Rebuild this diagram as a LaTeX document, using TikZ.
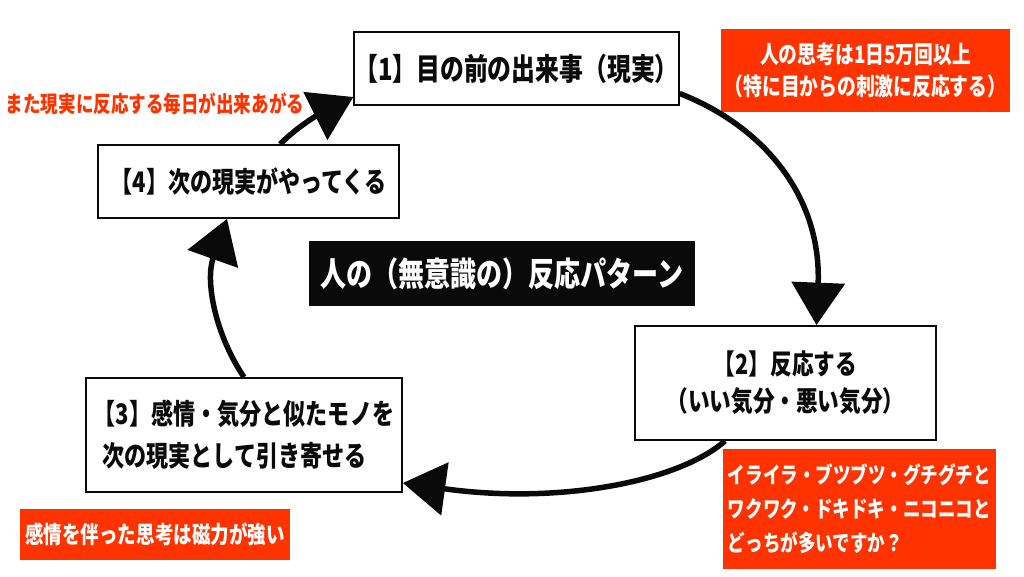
\documentclass[tikz,border=0pt]{standalone}
\usepackage{fontspec}
\setmainfont{Noto Sans CJK JP}[FakeStretch=0.78]
\usepackage{xcolor}
\usepackage{tikz}
\usetikzlibrary{arrows.meta}
\definecolor{rpRed}{RGB}{255, 51, 0}
\definecolor{rpBlack}{RGB}{10, 10, 10}
\newcommand{\fsz}[2]{\fontsize{#1}{#2}\selectfont\bfseries}
\tikzset{
    base/.style={
        align=center,
        inner sep=0pt
    },
    stepbox/.style={
        base,
        rectangle,
        draw=rpBlack,
        line width=1pt,
        fill=white,
        text=rpBlack
    },
    banner/.style={
        base,
        rectangle,
        fill=rpBlack,
        text=white
    },
    note/.style={
        base,
        rectangle,
        fill=rpRed,
        text=white
    },
    label/.style={
        base,
        text=rpRed
    },
    flow/.style={
        -{Triangle[length=0.85cm, width=1.05cm]},
        line width=0.11cm,
        color=rpBlack
    }
}
\begin{document}
\begin{tikzpicture}[x=0.02cm, y=-0.02cm]
  \useasboundingbox (0,0) rectangle (1024,576);

  % Steps
  \node[stepbox, minimum width=6.26cm, minimum height=1.46cm, font=\fsz{17.4pt}{23.8pt}]
    (one) at (516.5,68.5) {【1】目の前の出来事（現実）};
  \node[stepbox, minimum width=6.02cm, minimum height=2.28cm, font=\fsz{15.8pt}{21pt}]
    (two) at (785.5,383) {【2】反応する\\（いい気分・悪い気分）};
  \node[stepbox, minimum width=6.32cm, minimum height=2.28cm, align=left, font=\fsz{16.1pt}{23.8pt}]
    (three) at (244,435) {【3】感情・気分と似たモノを\\\hspace{0.3em}次の現実として引き寄せる};
  \node[stepbox, minimum width=6.02cm, minimum height=1.46cm, font=\fsz{16.1pt}{21pt}]
    (four) at (248.5,181.5) {【4】次の現実がやってくる};

  % Title
  \node[banner, minimum width=7.72cm, minimum height=1.3cm, font=\fsz{19pt}{22pt}]
    (title) at (502,273.5) {人の（無意識の）反応パターン};

  % Notes
  \node[note, minimum width=5.78cm, minimum height=1.66cm, font=\fsz{13.7pt}{18.1pt}]
    (thought) at (865.5,70.5) {人の思考は1日5万回以上\\（特に目からの刺激に反応する）};
  \node[note, minimum width=5.46cm, minimum height=2.4cm, align=left, font=\fsz{12.8pt}{19.3pt}]
    (feeling) at (859.5,509) {イライラ・ブツブツ・グチグチと\\ワクワク・ドキドキ・ニコニコと\\どっちが多いですか？};
  \node[note, minimum width=5.4cm, minimum height=1.02cm, font=\fsz{13.5pt}{16pt}]
    (magnet) at (155,534.5) {感情を伴った思考は磁力が強い};
  \node[label, font=\fsz{12.8pt}{16pt}]
    (daily) at (155,104) {また現実に反応する毎日が出来あがる};

  % Cycle
  \draw[flow] ([yshift=-0.5cm]one.east) .. controls +(87,34) and +(5,-126) .. ([xshift=0.62cm]two.north);
  \draw[flow] ([xshift=-1.21cm]two.south) .. controls +(-45,40) and +(158,22) .. ([yshift=-0.96cm]three.east);
  \draw[flow] (three.north) .. controls +(-29,-43) and +(-22,62) .. ([xshift=-0.43cm]four.south);
  \draw[flow] ([xshift=0.63cm]four.north) .. controls +(20,-20) and +(-30,15) .. ([yshift=-0.57cm]one.west);
\end{tikzpicture}
\end{document}
